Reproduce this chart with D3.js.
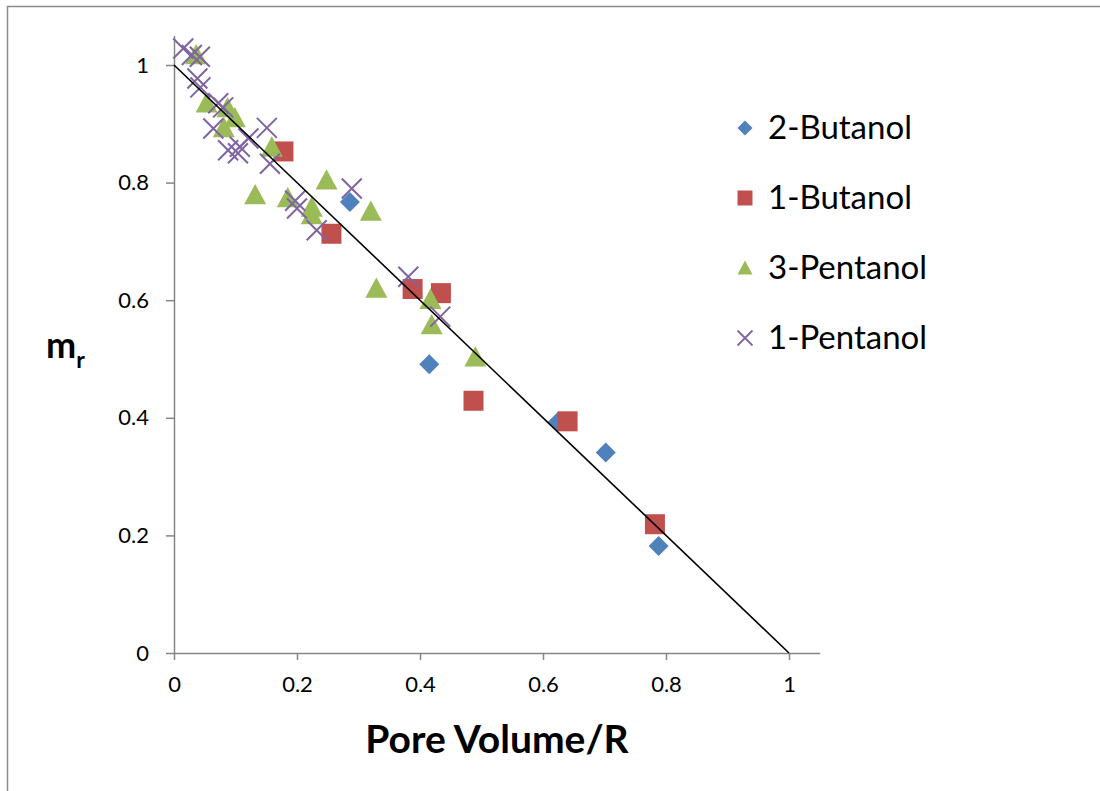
<!DOCTYPE html>
<html>
<head>
<meta charset="utf-8">
<script src="https://cdn.jsdelivr.net/npm/d3@7"></script>
<style>
  body { margin: 0; background: #fff; }
  svg { display: block; font-family: Lato, "Open Sans", sans-serif; }
</style>
</head>
<body>
<svg id="chart" width="1100" height="791"></svg>
<script>
// values, [x, y]
const butanol2 = [[0.286, 0.767], [0.415, 0.491], [0.624, 0.393], [0.702, 0.341], [0.788, 0.182]];
const butanol1 = [[0.178, 0.853], [0.256, 0.713], [0.388, 0.619], [0.434, 0.612], [0.487, 0.429], [0.640, 0.394], [0.782, 0.219]];
const pentanol3 = [[0.036, 1.017], [0.053, 0.935], [0.087, 0.927], [0.099, 0.910], [0.081, 0.893],
  [0.159, 0.860], [0.132, 0.779], [0.185, 0.774], [0.224, 0.758], [0.224, 0.745], [0.248, 0.804],
  [0.320, 0.751], [0.329, 0.620], [0.417, 0.601], [0.419, 0.558], [0.490, 0.503]];
const pentanol1 = [[0.015, 1.028], [0.029, 1.017], [0.042, 1.014], [0.038, 0.977], [0.043, 0.962],
  [0.072, 0.935], [0.080, 0.928], [0.064, 0.892], [0.088, 0.855], [0.107, 0.861], [0.104, 0.850],
  [0.121, 0.875], [0.151, 0.893], [0.156, 0.832], [0.197, 0.769], [0.200, 0.756], [0.232, 0.719],
  [0.289, 0.790], [0.381, 0.640], [0.433, 0.572]];
const fitLine = [[0, 1], [1, 0]];
const xTicks = [0, 0.2, 0.4, 0.6, 0.8, 1];
const yTicks = [0, 0.2, 0.4, 0.6, 0.8, 1];

const series = [
  { name: '2-Butanol', data: butanol2, color: '#4F81BD', shape: 'diamond' },
  { name: '1-Butanol', data: butanol1, color: '#C0504D', shape: 'square' },
  { name: '3-Pentanol', data: pentanol3, color: '#9BBB59', shape: 'triangle' },
  { name: '1-Pentanol', data: pentanol1, color: '#8064A2', shape: 'cross' },
];

const svg = d3.select('#chart');

// outer chart border (cut off at right/bottom like the source)
svg.append('rect')
  .attr('x', 7.5).attr('y', 6.5).attr('width', 1200).attr('height', 900)
  .attr('fill', 'none').attr('stroke', '#8c8c8c').attr('stroke-width', 1.5);

const x = d3.scaleLinear().domain([0, 1.05]).range([174, 174 + 615 * 1.05]);
const y = d3.scaleLinear().domain([0, 1.05]).range([653, 653 - 588 * 1.05]);

const fmt = (d) => (d === 0 || d === 1 ? String(d) : d3.format('.1f')(d));

const xAxis = svg.append('g')
  .attr('transform', `translate(0,${y(0)})`)
  .call(d3.axisBottom(x).tickValues(xTicks).tickFormat(fmt).tickSize(7).tickPadding(16).tickSizeOuter(0));
const yAxis = svg.append('g')
  .attr('transform', `translate(${x(0)},0)`)
  .call(d3.axisLeft(y).tickValues(yTicks).tickFormat(fmt).tickSize(8).tickPadding(17).tickSizeOuter(0));

for (const ax of [xAxis, yAxis]) {
  ax.select('.domain').attr('stroke', '#868686').attr('stroke-width', 1.5);
  ax.selectAll('.tick line').attr('stroke', '#868686').attr('stroke-width', 1.5);
  ax.selectAll('.tick text').attr('fill', '#000').style('font-size', '22px').style('font-family', 'Lato, sans-serif');
}

function drawMarker(g, shape, color, s) {
  const h = s / 2;
  if (shape === 'cross') {
    g.append('path')
      .attr('d', `M${-h},${-h}L${h},${h}M${-h},${h}L${h},${-h}`)
      .attr('stroke', color).attr('stroke-width', s > 15 ? 2 : 1.8).attr('fill', 'none');
  } else if (shape === 'diamond') {
    g.append('path').attr('d', `M0,${-h}L${h},0L0,${h}L${-h},0Z`).attr('fill', color);
  } else if (shape === 'square') {
    g.append('path').attr('d', `M${-h},${-h}H${h}V${h}H${-h}Z`).attr('fill', color);
  } else {
    g.append('path').attr('d', `M0,${-h}L${h},${h * 0.85}L${-h},${h * 0.85}Z`).attr('fill', color);
  }
}

const markerSize = { diamond: 20, square: 20, triangle: 22, cross: 20 };

const points = svg.append('g');
for (const s of series) {
  points.append('g')
    .selectAll('g')
    .data(s.data)
    .join('g')
    .attr('transform', (d) => `translate(${x(d[0])},${y(d[1])})`)
    .each(function () { drawMarker(d3.select(this), s.shape, s.color, markerSize[s.shape]); });
}

// trend line
svg.append('path')
  .datum(fitLine)
  .attr('d', d3.line().x((d) => x(d[0])).y((d) => y(d[1])))
  .attr('stroke', '#000').attr('stroke-width', 1.6).attr('fill', 'none');

// legend
const legend = svg.append('g');
series.forEach((s, i) => {
  const cy = 128 + i * 70;
  const g = legend.append('g').attr('transform', `translate(745,${cy})`);
  drawMarker(g, s.shape, s.color, 15);
  legend.append('text')
    .attr('x', 768).attr('y', cy + 11)
    .style('font-size', '33px')
    .text(s.name);
});

// axis titles
svg.append('text')
  .attr('x', 497).attr('y', 753)
  .attr('text-anchor', 'middle')
  .style('font-size', '39px').style('font-weight', 'bold')
  .text('Pore Volume/R');

const yt = svg.append('text')
  .attr('x', 46).attr('y', 358)
  .style('font-size', '36px').style('font-weight', 'bold');
yt.append('tspan').text('m');
yt.append('tspan').attr('dy', 10).style('font-size', '23px').text('r');
</script>
</body>
</html>
